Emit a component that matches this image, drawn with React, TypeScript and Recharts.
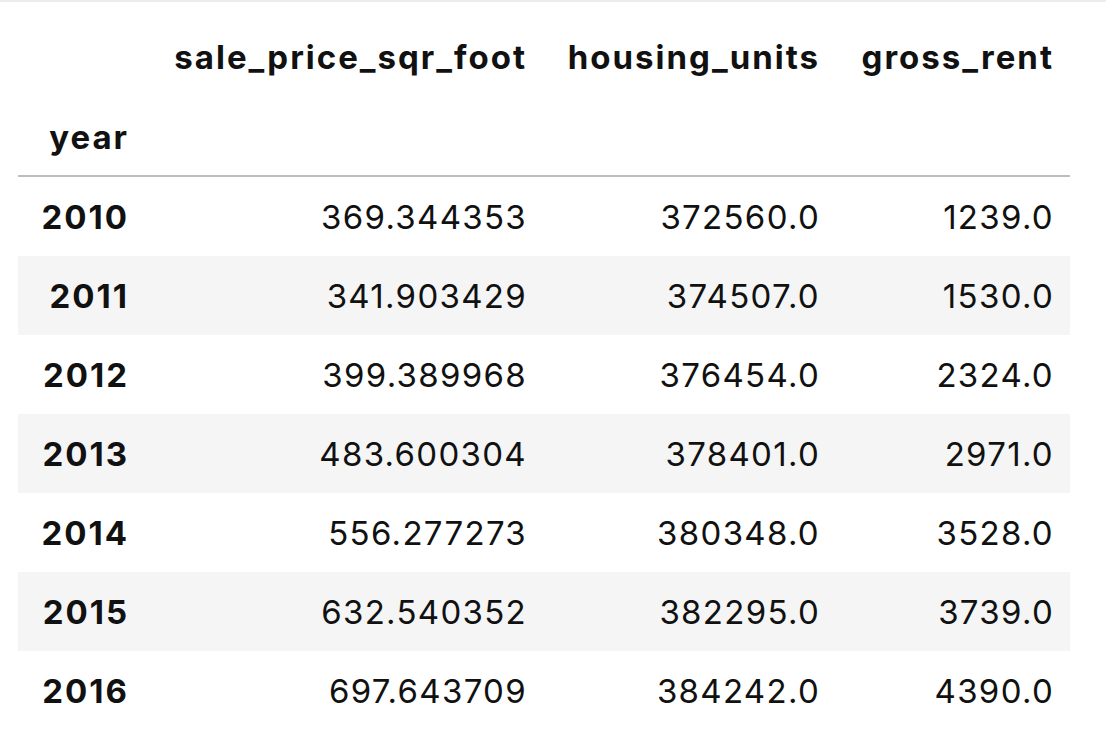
import React from 'react';
import { ComposedChart, Bar, XAxis, YAxis, Customized } from 'recharts';

const years = ['2010', '2011', '2012', '2013', '2014', '2015', '2016'];
const salePrice = ['369.344353', '341.903429', '399.389968', '483.600304', '556.277273', '632.540352', '697.643709'];
const housingUnits = ['372560.0', '374507.0', '376454.0', '378401.0', '380348.0', '382295.0', '384242.0'];
const grossRent = ['1239.0', '1530.0', '2324.0', '2971.0', '3528.0', '3739.0', '4390.0'];
const columns = ['sale_price_sqr_foot', 'housing_units', 'gross_rent'];
const indexName = 'year';

const data = years.map((y, i) => ({
  year: y,
  sale: parseFloat(salePrice[i]),
  saleText: salePrice[i],
  housingText: housingUnits[i],
  rentText: grossRent[i],
  idx: i,
}));

// layout
const W = 1106, H = 750;
const LEFT = 18, RIGHT = 1070;
const YEAR_RIGHT = 129;
const COL_RIGHT = [527, 820, 1054];
const FONT = 'Inter, "Open Sans", "DejaVu Sans", sans-serif';
const FS = 33;
const BOLD_LS = 2;
const REG_LS = 1.3;

const RowShape = (props: any) => {
  const { y, height, payload } = props;
  const cy = y + height / 2;
  const striped = payload.idx % 2 === 1;
  const vals = [payload.saleText, payload.housingText, payload.rentText];
  return (
    <g>
      {striped && <rect x={LEFT} y={y} width={RIGHT - LEFT} height={height} fill="#f5f5f5" />}
      <text x={YEAR_RIGHT} y={cy} dominantBaseline="central" textAnchor="end" fontFamily={FONT} fontSize={FS} fontWeight={700} letterSpacing={BOLD_LS} fill="#111">{payload.year}</text>
      {vals.map((v: string, k: number) => (
        <text key={k} x={COL_RIGHT[k]} y={cy} dominantBaseline="central" textAnchor="end" fontFamily={FONT} fontSize={FS} letterSpacing={REG_LS} fill="#111">{v}</text>
      ))}
    </g>
  );
};

const Header = () => (
  <g>
    <line x1={0} x2={W} y1={1} y2={1} stroke="#e6e6e6" strokeWidth={1.5} />
    {columns.map((c, k) => (
      <text key={c} x={COL_RIGHT[k]} y={57} dominantBaseline="central" textAnchor="end" fontFamily={FONT} fontSize={FS} fontWeight={700} letterSpacing={BOLD_LS} fill="#111">{c}</text>
    ))}
    <text x={YEAR_RIGHT} y={137} dominantBaseline="central" textAnchor="end" fontFamily={FONT} fontSize={FS} fontWeight={700} letterSpacing={BOLD_LS} fill="#111">{indexName}</text>
    <line x1={LEFT} x2={RIGHT} y1={176} y2={176} stroke="#bdbdbd" strokeWidth={2} />
  </g>
);

export default function App() {
  return (
    <div style={{ position: 'absolute', left: 0, top: 0, width: W, height: H, background: '#fff' }}>
      <ComposedChart width={W} height={H} data={data} layout="vertical"
        margin={{ top: 177, bottom: 20, left: 0, right: 0 }} barCategoryGap={0}>
        <XAxis type="number" hide domain={[0, 'dataMax']} />
        <YAxis type="category" dataKey="year" hide />
        <Bar dataKey="sale" isAnimationActive={false} shape={RowShape} />
        <Customized component={Header} />
      </ComposedChart>
    </div>
  );
}
